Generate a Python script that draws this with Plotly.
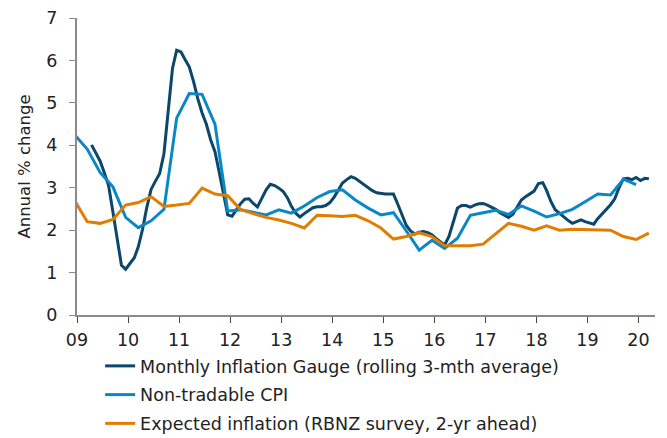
import pandas as pd
import plotly.graph_objects as go

# Monthly Inflation Gauge (rolling 3-mth average), Apr 2009 - Mar 2020
mig_start = "2009-04-15"
mig_values = [
    4.01, 3.82, 3.63, 3.36, 3.05, 2.43, 1.78, 1.17, 1.08, 1.21, 1.35, 1.60,
    2.02, 2.53, 2.96, 3.15, 3.33, 3.80, 4.73, 5.81, 6.24, 6.20, 6.01, 5.85,
    5.50, 5.10, 4.76, 4.50, 4.13, 3.85, 3.37, 2.85, 2.36, 2.33, 2.48, 2.62,
    2.73, 2.74, 2.63, 2.55, 2.75, 2.95, 3.08, 3.05, 2.99, 2.91, 2.76, 2.56,
    2.40, 2.31, 2.39, 2.46, 2.53, 2.55, 2.55, 2.58, 2.65, 2.78, 2.95, 3.11,
    3.19, 3.26, 3.22, 3.15, 3.08, 3.01, 2.93, 2.88, 2.86, 2.85, 2.85, 2.85,
    2.61, 2.35, 2.11, 1.98, 1.91, 1.95, 1.97, 1.94, 1.89, 1.80, 1.73, 1.65,
    1.85, 2.20, 2.52, 2.58, 2.58, 2.54, 2.59, 2.62, 2.63, 2.59, 2.54, 2.49,
    2.41, 2.35, 2.30, 2.37, 2.55, 2.71, 2.79, 2.85, 2.92, 3.10, 3.12, 2.93,
    2.67, 2.48, 2.39, 2.30, 2.23, 2.16, 2.20, 2.24, 2.20, 2.17, 2.14, 2.27,
    2.38, 2.47, 2.60, 2.74, 3.00, 3.21, 3.22, 3.19, 3.24, 3.17, 3.22, 3.21,
]

# Non-tradable CPI, quarterly, Dec 2008 - Dec 2019
cpi_start = "2008-12-15"
cpi_values = [
    4.25, 3.91, 3.36, 3.02, 2.30, 2.06, 2.22, 2.49, 4.64, 5.22, 5.20, 4.50,
    2.45, 2.48, 2.42, 2.36, 2.48, 2.40, 2.57, 2.77, 2.91, 2.95, 2.71, 2.52,
    2.36, 2.41, 1.98, 1.53, 1.76, 1.57, 1.81, 2.35, 2.41, 2.47, 2.37, 2.57,
    2.45, 2.31, 2.39, 2.49, 2.67, 2.85, 2.83, 3.20, 3.07,
]

# Expected inflation (RBNZ survey, 2-yr ahead), quarterly, Dec 2008 - Mar 2020
exp_start = "2008-12-15"
exp_values = [
    2.70, 2.20, 2.16, 2.25, 2.59, 2.65, 2.79, 2.56, 2.59, 2.63, 2.99, 2.85,
    2.81, 2.49, 2.39, 2.30, 2.24, 2.16, 2.05, 2.35, 2.34, 2.32, 2.35, 2.22,
    2.05, 1.79, 1.85, 1.94, 1.85, 1.63, 1.63, 1.63, 1.67, 1.91, 2.16, 2.09,
    2.00, 2.10, 2.00, 2.02, 2.01, 2.00, 2.00, 1.85, 1.78, 1.93,
]

series_names = [
    "Monthly Inflation Gauge (rolling 3-mth average)",
    "Non-tradable CPI",
    "Expected inflation (RBNZ survey, 2-yr ahead)",
]
series_colors = ["#0b466b", "#0a88c6", "#e27d00"]

year_ticks = [f"{y}-01-01" for y in range(2009, 2021)]
year_labels = ["09", "10", "11", "12", "13", "14", "15", "16", "17", "18", "19", "20"]
y_ticks = [0, 1, 2, 3, 4, 5, 6, 7]


def dates(start, n, months):
    base = pd.Timestamp(start)
    return [base + pd.DateOffset(months=months * i) for i in range(n)]


mig_x = dates(mig_start, len(mig_values), 1)
cpi_x = dates(cpi_start, len(cpi_values), 3)
exp_x = dates(exp_start, len(exp_values), 3)

fig = go.Figure()
for x, y, name, color, grp in [
    (mig_x, mig_values, series_names[0], series_colors[0], "a"),
    (cpi_x, cpi_values, series_names[1], series_colors[1], "b"),
    (exp_x, exp_values, series_names[2], series_colors[2], "c"),
]:
    fig.add_trace(go.Scatter(
        x=x, y=y, mode="lines", name=name, legendgroup=grp,
        line=dict(color=color, width=3),
        hoverinfo="skip",
    ))

axis_color = "#8a8a8a"
font_family = "DejaVu Sans, Verdana, sans-serif"
txt = "#222222"

# The page body has a default margin, so the figure is 8px smaller
fig.update_layout(
    width=659, height=430,
    margin=dict(l=69, r=12, t=10, b=123, autoexpand=False),
    paper_bgcolor="white", plot_bgcolor="white",
    font=dict(family=font_family, size=17.5, color=txt),
    showlegend=True,
    legend=dict(
        xref="paper", x=0.04, yref="container", y=0.2093,
        xanchor="left", yanchor="top",
        font=dict(size=17.5, color=txt),
        tracegroupgap=3, itemwidth=30,
        bgcolor="rgba(0,0,0,0)",
    ),
    xaxis=dict(
        type="date", automargin=False,
        range=["2009-01-01", "2020-04-28"],
        tickmode="array", tickvals=year_ticks, ticktext=year_labels,
        showgrid=False, zeroline=False,
        showline=True, linecolor=axis_color, linewidth=2,
        ticks="outside", ticklen=6, tickcolor="#444444", tickwidth=1,
        ticklabelstandoff=2,
        tickfont=dict(size=17.5, color=txt),
    ),
    yaxis=dict(
        range=[0, 7], automargin=False,
        tickmode="array", tickvals=y_ticks,
        showgrid=False, zeroline=False,
        showline=True, linecolor=axis_color, linewidth=2,
        ticks="outside", ticklen=6, tickcolor=axis_color, tickwidth=1,
        ticklabelstandoff=8, ticklabeloverflow="allow",
        tickfont=dict(size=17.5, color=txt),
        title=dict(text="Annual % change", font=dict(size=16.5, color=txt), standoff=12),
    ),
)

fig.write_html("out.html")
